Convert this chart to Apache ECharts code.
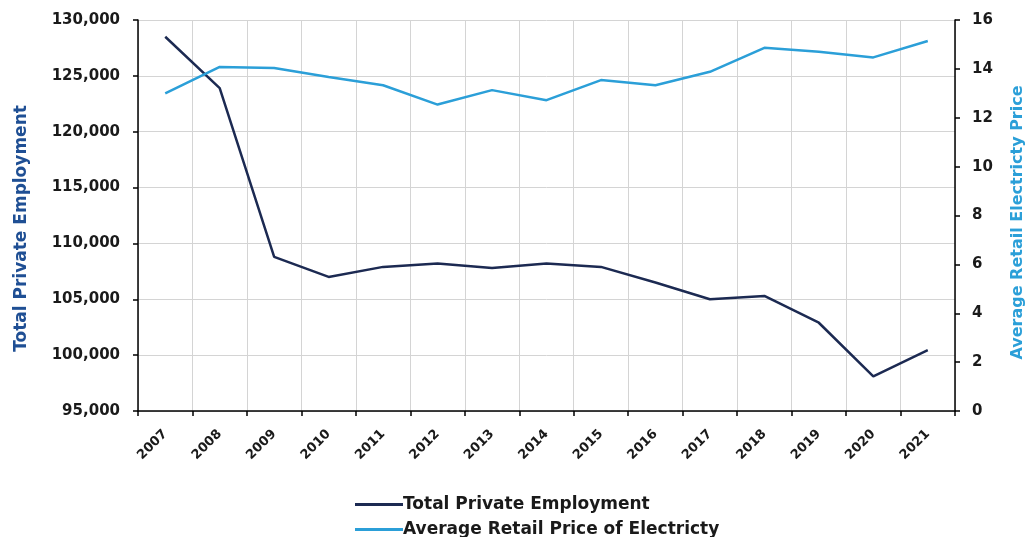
<!DOCTYPE html>
<html>
<head>
<meta charset="utf-8">
<script src="https://cdn.jsdelivr.net/npm/echarts@6/dist/echarts.min.js"></script>
<style>
  html, body { margin: 0; padding: 0; background: #fff; }
  #chart { width: 1026px; height: 537px; }
</style>
</head>
<body>
<div id="chart"></div>
<script>
const years = ["2007", "2008", "2009", "2010", "2011", "2012", "2013", "2014",
  "2015", "2016", "2017", "2018", "2019", "2020", "2021"];
const employment = [128500, 123900, 108800, 107000, 107900, 108200, 107800, 108200,
  107900, 106500, 105000, 105300, 102900, 98100, 100450];
const electricityPrice = [13.0, 14.08, 14.04, 13.67, 13.33, 12.54, 13.13, 12.72,
  13.54, 13.33, 13.88, 14.86, 14.7, 14.47, 15.14];

const font = "'DejaVu Sans', sans-serif";
const navy = "#1c2a52";
const sky = "#2b9fd8";

const chart = echarts.init(document.getElementById("chart"));
chart.setOption({
  animation: false,
  textStyle: { fontFamily: font },
  grid: { left: 138, right: 71, top: 20, bottom: 126, outerBoundsMode: "none" },
  legend: {
    orient: "vertical",
    left: 350,
    top: 491,
    height: 60,
    itemGap: 8,
    itemWidth: 48,
    itemHeight: 3,
    icon: "rect",
    textStyle: { fontFamily: font, fontWeight: "bold", fontSize: 17, color: "#1a1a1a", padding: [0, 0, 0, -5] },
    data: ["Total Private Employment", "Average Retail Price of Electricty"]
  },
  xAxis: {
    type: "category",
    data: years,
    boundaryGap: true,
    axisLine: { lineStyle: { color: "#000", width: 1.5 } },
    axisTick: { show: true, length: 5, lineStyle: { color: "#000", width: 1.5 } },
    splitLine: { show: true, lineStyle: { color: "#d4d4d4" } },
    axisLabel: { rotate: 45, fontWeight: "bold", fontSize: 13, color: "#1a1a1a", margin: 21 }
  },
  yAxis: [
    {
      type: "value",
      min: 95000,
      max: 130000,
      interval: 5000,
      name: "Total Private Employment",
      nameLocation: "middle",
      nameGap: 108,
      nameRotate: 90,
      nameTextStyle: { color: "#1f4f94", fontWeight: "bold", fontSize: 17, padding: [0, 26, 0, 0] },
      axisLine: { show: true, lineStyle: { color: "#000", width: 1.5 } },
      axisTick: { show: true, length: 5, lineStyle: { color: "#000", width: 1.5 } },
      splitLine: { show: true, lineStyle: { color: "#d4d4d4" } },
      axisLabel: {
        fontWeight: "bold", fontSize: 15, color: "#1a1a1a", margin: 18,
        formatter: v => v.toLocaleString("en-US")
      }
    },
    {
      type: "value",
      min: 0,
      max: 16,
      interval: 2,
      name: "Average Retail Electricty Price",
      nameLocation: "middle",
      nameGap: 55,
      nameRotate: 90,
      nameTextStyle: { color: sky, fontWeight: "bold", fontSize: 16, padding: [0, 14, 0, 0] },
      axisLine: { show: true, lineStyle: { color: "#000", width: 1.5 } },
      axisTick: { show: true, length: 5, lineStyle: { color: "#000", width: 1.5 } },
      splitLine: { show: false },
      axisLabel: { fontWeight: "bold", fontSize: 15, color: "#1a1a1a", margin: 17 }
    }
  ],
  series: [
    {
      name: "Total Private Employment",
      type: "line",
      yAxisIndex: 0,
      data: employment,
      showSymbol: false,
      color: navy,
      lineStyle: { color: navy, width: 2.5 }
    },
    {
      name: "Average Retail Price of Electricty",
      type: "line",
      yAxisIndex: 1,
      data: electricityPrice,
      showSymbol: false,
      color: sky,
      lineStyle: { color: sky, width: 2.5 }
    }
  ]
});
</script>
</body>
</html>
